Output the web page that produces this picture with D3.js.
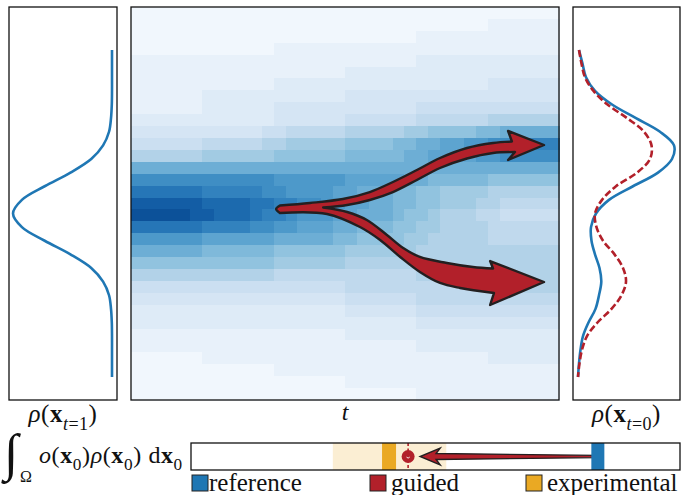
<!DOCTYPE html>
<html><head><meta charset="utf-8">
<script src="https://cdn.jsdelivr.net/npm/d3@7"></script>
<style>body{margin:0;background:#fff} svg{display:block} text{font-family:'Liberation Serif','DejaVu Serif',serif;}</style>
</head><body>
<svg id="c" width="681" height="495"></svg>
<script>
// ---------- data ----------
const stateGrid = [3,2.75,2.5,2.25,2,1.75,1.5,1.25,1,0.75,0.5,0.25,0,-0.25,-0.5,-0.75,-1,-1.25,-1.5,-1.75,-2,-2.25,-2.5,-2.75,-3];
const rhoT1      = [0,0,0,0,0.002,0.01,0.03,0.09,0.21,0.42,0.68,0.91,1,0.91,0.68,0.42,0.21,0.09,0.03,0.01,0.002,0,0,0,0];
const rhoT0Ref   = [0.02,0.055,0.09,0.18,0.35,0.59,0.83,0.97,0.95,0.81,0.56,0.32,0.19,0.14,0.145,0.18,0.225,0.243,0.22,0.185,0.115,0.06,0.035,0.02,0.01];
const rhoT0Guide = [0.02,0.045,0.08,0.165,0.305,0.50,0.67,0.745,0.73,0.60,0.39,0.25,0.18,0.195,0.26,0.375,0.46,0.49,0.445,0.345,0.205,0.10,0.05,0.025,0.01];

// trajectory density heatmap: rows top->bottom, columns t=1 (left) -> t=0 (right), levels 0..19 (0-9, a-j)
const heatRows = [
"000 000000 000000 000000 000000 000000 000",
"000 000000 000000 000000 000000 000111 111",
"000 000000 000000 000000 000111 111111 111",
"000 000000 000111 111111 111111 111111 111",
"111 111111 111111 111111 111222 222222 222",
"111 111111 111111 111222 222222 222222 222",
"111 111111 111222 222222 222222 222333 333",
"111 111222 222222 222333 333333 333333 333",
"111 111222 222333 333333 333444 444444 444",
"222 222222 222333 333444 444555 555666 666",
"333 333333 334455 555666 667788 8899aa aaa",
"444 444555 556677 777888 899aab bccdde eee",
"666 666777 777888 888999 99aabb bbccdd ddd",
"aaa aaaaaa aaaaaa aaaaaa aaaaaa aaaaaa aaa",
"ddd dddddd dddccc cccbbb bbaa99 999888 888",
"fff fffeee eeddcc ccbbaa a99887 777666 666",
"hhh hhhggg gffeed dccbba a99887 776655 555",
"iii iihhgg gfeedc ccbbaa a98876 665544 444",
"fff fffeee eddccb bbaa99 988776 666555 555",
"ccc cccbbb bbbaaa aa9988 887766 666555 555",
"aaa aaa999 999888 888777 777666 666666 666",
"888 888888 888777 777666 666666 666666 666",
"666 666666 666555 555555 555666 666666 666",
"444 444444 444444 444555 555555 555666 666",
"333 333333 333333 333444 444555 555555 555",
"222 222222 222222 222333 333444 444444 444",
"222 222222 222222 222222 222333 333333 333",
"111 111111 111111 111222 222222 222222 222",
"111 111111 111111 111111 111222 222222 222",
"000 000111 111111 111111 111111 111222 222",
"000 000000 000111 111111 111111 111111 111",
"000 000000 000000 000111 111111 111111 111",
"000 000000 000000 000000 000111 111111 111"
];

// bifurcating arrow outline in (t, state) coordinates
const arrowUpperTop    = [[0.652,0.147],[0.582,0.193],[0.505,0.266],[0.442,0.394],[0.388,0.578],[0.332,0.798],[0.278,1.018],[0.215,1.202],[0.154,1.294],[0.110,1.321]];
const arrowUpperHead   = [[0.110,1.321],[0.119,1.514],[0.035,1.257],[0.119,0.982],[0.103,1.128]];
const arrowUpperBottom = [[0.103,1.128],[0.154,1.110],[0.215,1.009],[0.278,0.835],[0.332,0.615],[0.388,0.394],[0.442,0.248],[0.495,0.156],[0.551,0.110]];
const arrowLowerTop    = [[0.551,0.110],[0.495,0.028],[0.449,-0.119],[0.402,-0.394],[0.364,-0.633],[0.325,-0.798],[0.262,-0.908],[0.201,-0.982],[0.154,-1.009]];
const arrowLowerHead   = [[0.154,-1.009],[0.161,-0.872],[0.035,-1.257],[0.161,-1.679],[0.152,-1.459]];
const arrowLowerBottom = [[0.152,-1.459],[0.231,-1.367],[0.278,-1.275],[0.325,-1.073],[0.371,-0.798],[0.418,-0.486],[0.465,-0.248],[0.542,-0.009],[0.652,0.009]];
const arrowTail        = [[0.652,0.009],[0.661,0.083],[0.652,0.147]];

// integral of objective
const legendLabels = ["reference","guided","experimental"];
const integralRef = 0.832;
const integralGuided = 0.444;
const integralExp = 0.405;
const integralExpBand = [0.290, 0.522];

// ---------- drawing ----------
const C_BLUE = "#1f77b4", C_RED = "#b2202a", C_ORANGE = "#eaa923", C_DARK = "#231f20";
const SERIF = "'Liberation Serif','DejaVu Serif',serif";
const svg = d3.select("#c");

const yState = d3.scaleLinear().domain([-3,3]).range([377,50]);
const xLeft  = d3.scaleLinear().domain([0,1]).range([112,13]);
const xRight = d3.scaleLinear().domain([0,1]).range([577,677]);
const tScale = d3.scaleLinear().domain([1,0]).range([131,559]);

// heatmap
const rows = heatRows.map(r => r.replace(/\s+/g, ""));
const nCols = d3.max(rows, r => r.length), nRows = rows.length;
const xBand = d3.scaleBand().domain(d3.range(nCols)).range([131,559]);
const yBand = d3.scaleBand().domain(d3.range(nRows)).range([7,400]);
const level = d3.scaleLinear().domain([0,19]).range([0.03,0.92]);
const cells = [];
rows.forEach((row, r) => row.split("").forEach((ch, c) => cells.push({r, c, v: parseInt(ch, 20)})));
svg.append("g").selectAll("rect").data(cells).join("rect")
  .attr("x", d => xBand(d.c)).attr("y", d => yBand(d.r))
  .attr("width", xBand.bandwidth() + 0.6).attr("height", yBand.bandwidth() + 0.6)
  .attr("fill", d => d3.interpolateBlues(level(d.v))).attr("shape-rendering","crispEdges");

// arrow
function seg(pts, curved){ const g = d3.line().x(d => tScale(d[0])).y(d => yState(d[1])).curve(curved ? d3.curveCatmullRom.alpha(0.5) : d3.curveLinear); return g(pts); }
const dPath = seg(arrowUpperTop, true)
  + seg(arrowUpperHead, false).replace(/^M/, "L")
  + seg(arrowUpperBottom, true).replace(/^M/, "L")
  + seg(arrowLowerTop, true).replace(/^M/, "L")
  + seg(arrowLowerHead, false).replace(/^M/, "L")
  + seg(arrowLowerBottom, true).replace(/^M/, "L")
  + seg(arrowTail, true).replace(/^M/, "L") + "Z";
svg.append("path").attr("d", dPath).attr("fill", C_RED).attr("stroke", C_DARK)
  .attr("stroke-width", 2.4).attr("stroke-linejoin", "round");

// frames
[[9,117],[131,559],[573,680]].forEach(([a,b]) => {
  svg.append("rect").attr("x", a).attr("y", 7).attr("width", b-a).attr("height", 393)
    .attr("fill","none").attr("stroke","#111").attr("stroke-width",1.3);
});

// side density curves
const lineL = d3.line().x((d,i) => xLeft(rhoT1[i])).y(d => yState(d)).curve(d3.curveCatmullRom.alpha(0.5));
svg.append("path").attr("d", lineL(stateGrid)).attr("fill","none").attr("stroke",C_BLUE).attr("stroke-width",2.6);
const lineR = arr => d3.line().x((d,i) => xRight(arr[i])).y(d => yState(d)).curve(d3.curveCatmullRom.alpha(0.5))(stateGrid);
svg.append("path").attr("d", lineR(rhoT0Ref)).attr("fill","none").attr("stroke",C_BLUE).attr("stroke-width",2.6);
svg.append("path").attr("d", lineR(rhoT0Guide)).attr("fill","none").attr("stroke",C_RED).attr("stroke-width",2.6).attr("stroke-dasharray","7,3");

// rich text helper
function richText(x, y, size, parts, anchor, spacing) {
  const text = svg.append("text").attr("x", x).attr("y", y).style("font-size", size + "px")
    .attr("text-anchor", anchor || "start").style("font-family", SERIF).attr("fill","#111");
  if (spacing) text.style("letter-spacing", spacing + "px");
  let shift = 0;
  parts.forEach(p => {
    const ts = text.append("tspan").text(p.t);
    const target = p.sub ? size * 0.3 : 0;
    if (target !== shift) { ts.attr("dy", target - shift); shift = target; }
    if (p.sub) ts.style("font-size", (size * 0.72) + "px");
    if (p.i) ts.style("font-style", "italic");
    if (p.b) ts.style("font-weight", "bold");
  });
  return text;
}
richText(63, 422, 25, [{t:"ρ", i:1},{t:"("},{t:"x", b:1},{t:"t", sub:1, i:1},{t:"=1", sub:1},{t:")"}], "middle", 0.5);
richText(626.5, 422, 25, [{t:"ρ", i:1},{t:"("},{t:"x", b:1},{t:"t", sub:1, i:1},{t:"=0", sub:1},{t:")"}], "middle", 0.5);
richText(345, 420, 24, [{t:"t", i:1}], "middle");

// integral label
svg.append("text").attr("x", 4).attr("y", 470).style("font-size", "52px").style("font-family", SERIF)
  .style("font-style","italic").attr("fill","#111").text("∫");
svg.append("text").attr("x", 20).attr("y", 482).style("font-size", "16px").style("font-family", SERIF).attr("fill","#111").text("Ω");
richText(39, 463, 24, [{t:"o", i:1},{t:"("},{t:"x", b:1},{t:"0", sub:1},{t:")"},{t:"ρ", i:1},{t:"("},{t:"x", b:1},{t:"0", sub:1},{t:") d"},{t:"x", b:1},{t:"0", sub:1}], "start", 0.6);

// objective bar
const barScale = d3.scaleLinear().domain([0,1]).range([191,680]);
const bTop = 443, bBot = 470, bMid = (bTop + bBot) / 2;
const gb = svg.append("g");
gb.append("rect").attr("x", barScale(integralExpBand[0])).attr("y", bTop)
  .attr("width", barScale(integralExpBand[1]) - barScale(integralExpBand[0])).attr("height", bBot - bTop)
  .attr("fill", C_ORANGE).attr("fill-opacity", 0.2);
gb.append("rect").attr("x", barScale(integralExp) - 7).attr("y", bTop).attr("width", 14).attr("height", bBot - bTop).attr("fill", C_ORANGE);
gb.append("line").attr("x1", barScale(integralGuided)).attr("x2", barScale(integralGuided)).attr("y1", bTop).attr("y2", bBot)
  .attr("stroke", C_RED).attr("stroke-width", 1.6).attr("stroke-dasharray", "3,2.5");
gb.append("circle").attr("cx", barScale(integralGuided)).attr("cy", bMid).attr("r", 6.5).attr("fill", C_RED);
gb.append("path").attr("d", `M${barScale(integralGuided)-1.6},${bMid+0.6} Q${barScale(integralGuided)},${bMid+2.6} ${barScale(integralGuided)+1.6},${bMid+0.6}`)
  .attr("fill","none").attr("stroke","#fff").attr("stroke-width",0.9);
const xr = barScale(integralRef), xt = barScale(integralGuided) + 12;
gb.append("path").attr("d", d3.line()([[xr, bMid-1.1],[xt+16, bMid-3],[xt+20, bMid-8.3],[xt, bMid],[xt+20, bMid+8.3],[xt+16, bMid+3],[xr, bMid+1.1]]) + "Z")
  .attr("fill", C_RED).attr("stroke", C_DARK).attr("stroke-width", 1.4).attr("stroke-linejoin","miter");
gb.append("rect").attr("x", xr - 6.5).attr("y", bTop).attr("width", 13).attr("height", bBot - bTop).attr("fill", C_BLUE);
gb.append("rect").attr("x", 191).attr("y", bTop).attr("width", 489).attr("height", bBot - bTop)
  .attr("fill","none").attr("stroke","#111").attr("stroke-width",1.3);

// legend
const legColors = [C_BLUE, C_RED, C_ORANGE];
const legX = [192, 370, 526];
const legTextX = [209, 391, 547];
legendLabels.forEach((lab, i) => {
  svg.append("rect").attr("x", legX[i]).attr("y", 475).attr("width", 16).attr("height", 16)
    .attr("fill", legColors[i]).attr("stroke", "#222").attr("stroke-width", 1);
  svg.append("text").attr("x", legTextX[i]).attr("y", 491).style("font-size", "25px").style("font-family", SERIF)
    .attr("fill","#111").text(lab);
});
</script>
</body></html>
